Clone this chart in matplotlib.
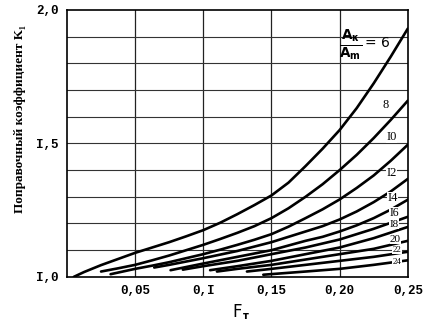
import matplotlib
matplotlib.use('Agg')
import matplotlib.pyplot as plt

# curves of K1 against F, one per area ratio
ratios = [6, 8, 10, 12, 14, 16, 18, 20, 22, 24]
f_6 = [0.005, 0.0125, 0.025, 0.0375, 0.05, 0.0625, 0.075, 0.0875, 0.1, 0.1125,
       0.125, 0.1375, 0.15, 0.1625, 0.175, 0.1875, 0.2, 0.2125, 0.225, 0.2375, 0.25]
k_6 = [1.0, 1.018, 1.044, 1.067, 1.09, 1.11, 1.13, 1.152, 1.175, 1.203,
       1.235, 1.269, 1.305, 1.353, 1.415, 1.48, 1.55, 1.632, 1.725, 1.825, 1.93]
f_8 = [0.025, 0.0375, 0.05, 0.0625, 0.075, 0.0875, 0.1, 0.1125, 0.125, 0.1375,
       0.15, 0.1625, 0.175, 0.1875, 0.2, 0.2125, 0.225, 0.2375, 0.25]
k_8 = [1.02, 1.032, 1.045, 1.062, 1.08, 1.1, 1.12, 1.142, 1.165, 1.19,
       1.22, 1.257, 1.30, 1.347, 1.40, 1.457, 1.52, 1.588, 1.66]
f_10 = [0.032, 0.05, 0.0625, 0.075, 0.0875, 0.1, 0.1125, 0.125, 0.1375, 0.15,
        0.1625, 0.175, 0.1875, 0.2, 0.2125, 0.225, 0.2375, 0.25]
k_10 = [1.01, 1.03, 1.042, 1.055, 1.07, 1.085, 1.102, 1.12, 1.139, 1.16,
        1.188, 1.22, 1.253, 1.29, 1.333, 1.38, 1.435, 1.495]
f_12 = [0.064, 0.075, 0.1, 0.125, 0.15, 0.175, 0.1875, 0.2, 0.2125, 0.225, 0.2375, 0.25]
k_12 = [1.035, 1.045, 1.07, 1.097, 1.13, 1.17, 1.19, 1.215, 1.245, 1.28, 1.32, 1.367]
f_14 = [0.076, 0.1, 0.125, 0.15, 0.175, 0.1875, 0.2, 0.2125, 0.225, 0.2375, 0.25]
k_14 = [1.025, 1.05, 1.075, 1.10, 1.135, 1.15, 1.17, 1.193, 1.22, 1.252, 1.289]
f_16 = [0.085, 0.1, 0.125, 0.15, 0.175, 0.2, 0.225, 0.25]
k_16 = [1.027, 1.04, 1.06, 1.085, 1.11, 1.14, 1.18, 1.225]
f_18 = [0.105, 0.125, 0.15, 0.175, 0.2, 0.225, 0.25]
k_18 = [1.025, 1.04, 1.06, 1.085, 1.11, 1.145, 1.187]
f_20 = [0.11, 0.125, 0.15, 0.175, 0.2, 0.225, 0.25]
k_20 = [1.02, 1.03, 1.045, 1.065, 1.085, 1.105, 1.135]
f_22 = [0.132, 0.15, 0.175, 0.2, 0.225, 0.25]
k_22 = [1.02, 1.03, 1.045, 1.06, 1.075, 1.094]
f_24 = [0.144, 0.175, 0.2, 0.225, 0.25]
k_24 = [1.008, 1.02, 1.03, 1.045, 1.062]

curves = [(f_6, k_6), (f_8, k_8), (f_10, k_10), (f_12, k_12), (f_14, k_14),
          (f_16, k_16), (f_18, k_18), (f_20, k_20), (f_22, k_22), (f_24, k_24)]

labels = ['8', 'I0', 'I2', 'I4', 'I6', 'I8', '20', '22', '24']
label_x = [0.234, 0.238, 0.238, 0.239, 0.240, 0.240, 0.241, 0.242, 0.242]
label_y = [1.645, 1.525, 1.39, 1.296, 1.24, 1.198, 1.141, 1.101, 1.056]
label_size = [9, 9, 9, 9, 8.5, 8, 8, 6.5, 6.5]

xticks = [0.05, 0.1, 0.15, 0.20, 0.25]
xticklabels = ['0,05', '0,I', '0,15', '0,20', '0,25']
yticks = [1.0, 1.5, 2.0]
yticklabels = ['I,0', 'I,5', '2,0']

fig = plt.figure(figsize=(4.32, 3.30), dpi=100)
ax = fig.add_axes([0.155, 0.161, 0.789, 0.809])

# grid drawn by hand: verticals only at 0.05 steps inside, horizontals every 0.1
for x in xticks[:-1]:
    ax.axvline(x, color='#222222', lw=0.9, zorder=1)
for i in range(1, 10):
    ax.axhline(1 + i * 0.1, color='#333333', lw=0.8, zorder=1)

for f, k in curves:
    ax.plot(f, k, color='black', lw=1.9, solid_capstyle='round',
            solid_joinstyle='round', zorder=3)

ax.set_xlim(0, 0.25)
ax.set_ylim(1.0, 2.0)
ax.set_xticks(xticks)
ax.set_xticklabels(xticklabels)
ax.set_yticks(yticks)
ax.set_yticklabels(yticklabels)
ax.tick_params(length=0, pad=6, labelsize=9)
for lab in ax.get_xticklabels() + ax.get_yticklabels():
    lab.set_family('Liberation Mono')
    lab.set_weight('bold')
for s in ax.spines.values():
    s.set_linewidth(1.2)

# ratio label for the top curve
ax.text(0.1995, 1.868, r'$\frac{\mathbf{A_{\kappa}}}{\mathbf{A_m}}$', fontsize=14,
        ha='left', va='center', zorder=4)
ax.text(0.2185, 1.875, '= 6', fontsize=10, ha='left', va='center', zorder=4)

for t, x, y, s in zip(labels, label_x, label_y, label_size):
    ax.text(x, y, t, fontsize=s, family='Liberation Serif', ha='center',
            va='center', zorder=4,
            bbox=dict(facecolor='white', edgecolor='none', pad=0.2))

fig.text(0.047, 0.64, 'Поправочный коэффициент K₁', rotation=90,
         ha='center', va='center', fontsize=9.5, family='Liberation Serif',
         weight='bold')
fig.text(0.548, 0.055, 'F', ha='center', va='center', fontsize=12,
         family='DejaVu Sans')
fig.text(0.568, 0.043, 'т', ha='center', va='center', fontsize=7,
         family='DejaVu Sans', weight='bold')

fig.savefig('out.png', dpi=100)
